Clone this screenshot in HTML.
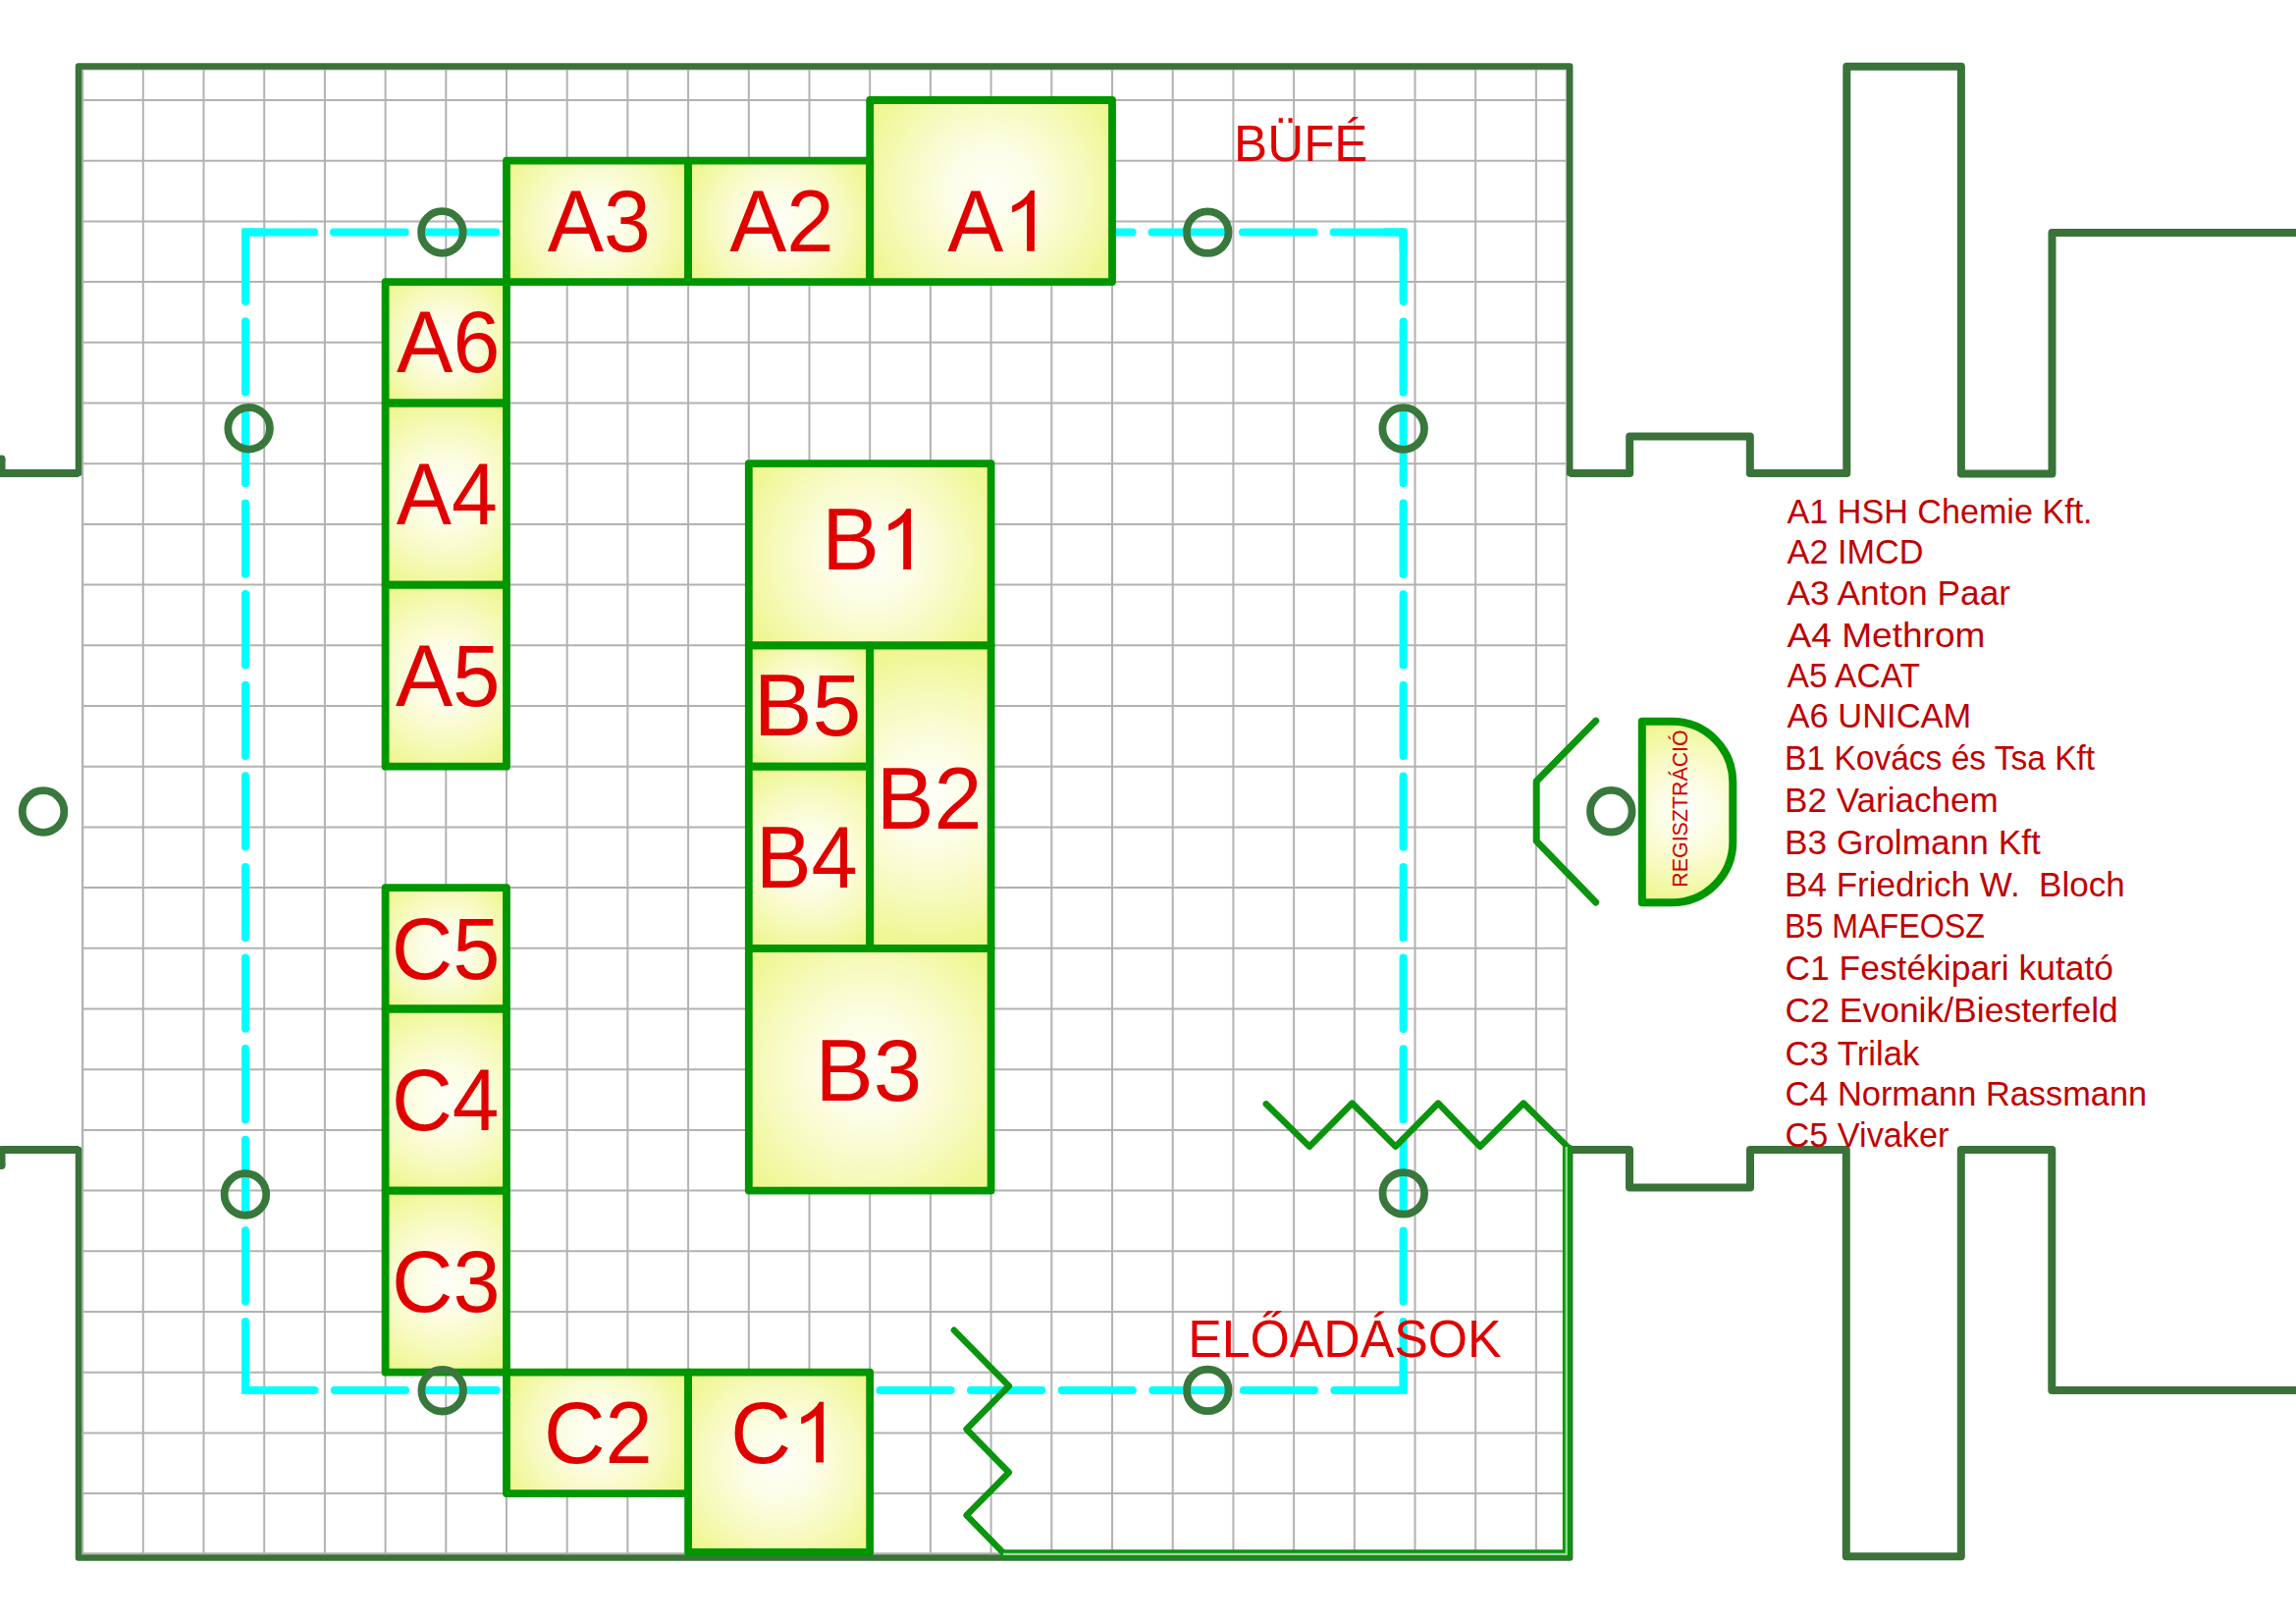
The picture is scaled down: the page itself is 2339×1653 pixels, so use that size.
<!DOCTYPE html><html><head><meta charset="utf-8"><title>Floor plan</title>
<style>html,body{margin:0;padding:0;background:#fff;}svg{display:block;}text{font-family:"Liberation Sans",sans-serif;}</style></head><body>
<svg width="2339" height="1653" viewBox="0 0 2339 1653">
<defs>
<clipPath id="gclip"><rect x="83" y="70" width="1513" height="1513"/></clipPath>
</defs>
<rect width="2339" height="1653" fill="#fff"/>
<path d="M84.1 70V1583M145.8 70V1583M207.5 70V1583M269.2 70V1583M330.9 70V1583M392.6 70V1583M454.3 70V1583M516.0 70V1583M577.7 70V1583M639.4 70V1583M701.1 70V1583M762.8 70V1583M824.5 70V1583M886.2 70V1583M947.9 70V1583M1009.6 70V1583M1071.3 70V1583M1133.0 70V1583M1194.7 70V1583M1256.4 70V1583M1318.1 70V1583M1379.8 70V1583M1441.5 70V1583M1503.2 70V1583M1564.9 70V1583M83 102.0H1596M83 163.7H1596M83 225.4H1596M83 287.1H1596M83 348.8H1596M83 410.5H1596M83 472.2H1596M83 533.9H1596M83 595.6H1596M83 657.3H1596M83 719.0H1596M83 780.7H1596M83 842.4H1596M83 904.1H1596M83 965.8H1596M83 1027.5H1596M83 1089.2H1596M83 1150.9H1596M83 1212.6H1596M83 1274.3H1596M83 1336.0H1596M83 1397.7H1596M83 1459.4H1596M83 1521.1H1596M83 1582.8H1596" stroke="#b2b2b2" stroke-width="2" fill="none" clip-path="url(#gclip)"/>
<rect x="84.2" y="70.5" width="1511.6" height="1511.8" stroke="#b2b2b2" stroke-width="2" fill="none"/>
<path d="M80 482L80 67.5L1599.2 67.5L1599.2 482M80 1171L80 1586.5L1599.2 1586.5L1599.2 1171" stroke="#397339" stroke-width="6.5" fill="none" stroke-linejoin="round" stroke-linecap="round"/>
<path d="M1.5 467.5L1.5 482L80 482M1.5 1187L1.5 1171L80 1171M1599.2 482L1660.2 482L1660.2 444.4L1782.8 444.4L1782.8 482L1881.3 482L1881.3 67.8L1997.9 67.8L1997.9 482.4L2090.5 482.4L2090.5 237L2345 237M1599.2 1171L1660 1171L1660 1209.4L1783 1209.4L1783 1171L1880.8 1171L1880.8 1585.2L1997.8 1585.2L1997.8 1171L2090.3 1171L2090.3 1416L2345 1416" stroke="#397339" stroke-width="8" fill="none" stroke-linejoin="round" stroke-linecap="butt"/>
<circle cx="1.5" cy="467.5" r="4" fill="#397339"/><circle cx="1.5" cy="1187" r="4" fill="#397339"/>
<path d="M250.0 236.6H1429.6" stroke="#00ffff" stroke-width="8" fill="none" stroke-linecap="round" stroke-dasharray="72.8 19.8" stroke-dashoffset="2.6"/>
<path d="M250.0 236.6V1415.9" stroke="#00ffff" stroke-width="8" fill="none" stroke-linecap="round" stroke-dasharray="72.3 20.3" stroke-dashoffset="1.9"/>
<path d="M1429.6 236.6V1415.9" stroke="#00ffff" stroke-width="8" fill="none" stroke-linecap="round" stroke-dasharray="72.3 20.3" stroke-dashoffset="1.8"/>
<path d="M250.0 1415.9H1429.6" stroke="#00ffff" stroke-width="8" fill="none" stroke-linecap="round" stroke-dasharray="72.3 20.3" stroke-dashoffset="1.8"/>
<path d="M250.0 256.6V236.6H270.0M1409.6 236.6H1429.6V256.6M1429.6 1395.9V1415.9H1409.6M270.0 1415.9H250.0V1395.9" stroke="#00ffff" stroke-width="8" fill="none" stroke-linejoin="miter"/>
<radialGradient id="g1" gradientUnits="userSpaceOnUse" cx="608.5" cy="225.4" r="111.2"><stop offset="0" stop-color="#fefef8"/><stop offset="0.3" stop-color="#fcfde4"/><stop offset="0.6" stop-color="#f6fabf"/><stop offset="0.85" stop-color="#f0f79a"/><stop offset="1" stop-color="#edf688"/></radialGradient><rect x="516.0" y="163.7" width="185.1" height="123.4" fill="url(#g1)"/>
<radialGradient id="g2" gradientUnits="userSpaceOnUse" cx="793.7" cy="225.4" r="111.2"><stop offset="0" stop-color="#fefef8"/><stop offset="0.3" stop-color="#fcfde4"/><stop offset="0.6" stop-color="#f6fabf"/><stop offset="0.85" stop-color="#f0f79a"/><stop offset="1" stop-color="#edf688"/></radialGradient><rect x="701.1" y="163.7" width="185.1" height="123.4" fill="url(#g2)"/>
<radialGradient id="g3" gradientUnits="userSpaceOnUse" cx="1009.6" cy="194.6" r="154.2"><stop offset="0" stop-color="#fefef8"/><stop offset="0.3" stop-color="#fcfde4"/><stop offset="0.6" stop-color="#f6fabf"/><stop offset="0.85" stop-color="#f0f79a"/><stop offset="1" stop-color="#edf688"/></radialGradient><rect x="886.2" y="102.0" width="246.8" height="185.1" fill="url(#g3)"/>
<radialGradient id="g4" gradientUnits="userSpaceOnUse" cx="454.3" cy="348.8" r="87.3"><stop offset="0" stop-color="#fefef8"/><stop offset="0.3" stop-color="#fcfde4"/><stop offset="0.6" stop-color="#f6fabf"/><stop offset="0.85" stop-color="#f0f79a"/><stop offset="1" stop-color="#edf688"/></radialGradient><rect x="392.6" y="287.1" width="123.4" height="123.4" fill="url(#g4)"/>
<radialGradient id="g5" gradientUnits="userSpaceOnUse" cx="454.3" cy="503.1" r="111.2"><stop offset="0" stop-color="#fefef8"/><stop offset="0.3" stop-color="#fcfde4"/><stop offset="0.6" stop-color="#f6fabf"/><stop offset="0.85" stop-color="#f0f79a"/><stop offset="1" stop-color="#edf688"/></radialGradient><rect x="392.6" y="410.5" width="123.4" height="185.1" fill="url(#g5)"/>
<radialGradient id="g6" gradientUnits="userSpaceOnUse" cx="454.3" cy="688.2" r="111.2"><stop offset="0" stop-color="#fefef8"/><stop offset="0.3" stop-color="#fcfde4"/><stop offset="0.6" stop-color="#f6fabf"/><stop offset="0.85" stop-color="#f0f79a"/><stop offset="1" stop-color="#edf688"/></radialGradient><rect x="392.6" y="595.6" width="123.4" height="185.1" fill="url(#g6)"/>
<radialGradient id="g7" gradientUnits="userSpaceOnUse" cx="886.2" cy="564.8" r="154.2"><stop offset="0" stop-color="#fefef8"/><stop offset="0.3" stop-color="#fcfde4"/><stop offset="0.6" stop-color="#f6fabf"/><stop offset="0.85" stop-color="#f0f79a"/><stop offset="1" stop-color="#edf688"/></radialGradient><rect x="762.8" y="472.2" width="246.8" height="185.1" fill="url(#g7)"/>
<radialGradient id="g8" gradientUnits="userSpaceOnUse" cx="824.5" cy="719.0" r="87.3"><stop offset="0" stop-color="#fefef8"/><stop offset="0.3" stop-color="#fcfde4"/><stop offset="0.6" stop-color="#f6fabf"/><stop offset="0.85" stop-color="#f0f79a"/><stop offset="1" stop-color="#edf688"/></radialGradient><rect x="762.8" y="657.3" width="123.4" height="123.4" fill="url(#g8)"/>
<radialGradient id="g9" gradientUnits="userSpaceOnUse" cx="824.5" cy="873.2" r="111.2"><stop offset="0" stop-color="#fefef8"/><stop offset="0.3" stop-color="#fcfde4"/><stop offset="0.6" stop-color="#f6fabf"/><stop offset="0.85" stop-color="#f0f79a"/><stop offset="1" stop-color="#edf688"/></radialGradient><rect x="762.8" y="780.7" width="123.4" height="185.1" fill="url(#g9)"/>
<radialGradient id="g10" gradientUnits="userSpaceOnUse" cx="947.9" cy="811.5" r="166.1"><stop offset="0" stop-color="#fefef8"/><stop offset="0.3" stop-color="#fcfde4"/><stop offset="0.6" stop-color="#f6fabf"/><stop offset="0.85" stop-color="#f0f79a"/><stop offset="1" stop-color="#edf688"/></radialGradient><rect x="886.2" y="657.3" width="123.4" height="308.5" fill="url(#g10)"/>
<radialGradient id="g11" gradientUnits="userSpaceOnUse" cx="886.2" cy="1089.2" r="174.5"><stop offset="0" stop-color="#fefef8"/><stop offset="0.3" stop-color="#fcfde4"/><stop offset="0.6" stop-color="#f6fabf"/><stop offset="0.85" stop-color="#f0f79a"/><stop offset="1" stop-color="#edf688"/></radialGradient><rect x="762.8" y="965.8" width="246.8" height="246.8" fill="url(#g11)"/>
<radialGradient id="g12" gradientUnits="userSpaceOnUse" cx="454.3" cy="965.8" r="87.3"><stop offset="0" stop-color="#fefef8"/><stop offset="0.3" stop-color="#fcfde4"/><stop offset="0.6" stop-color="#f6fabf"/><stop offset="0.85" stop-color="#f0f79a"/><stop offset="1" stop-color="#edf688"/></radialGradient><rect x="392.6" y="904.1" width="123.4" height="123.4" fill="url(#g12)"/>
<radialGradient id="g13" gradientUnits="userSpaceOnUse" cx="454.3" cy="1120.0" r="111.2"><stop offset="0" stop-color="#fefef8"/><stop offset="0.3" stop-color="#fcfde4"/><stop offset="0.6" stop-color="#f6fabf"/><stop offset="0.85" stop-color="#f0f79a"/><stop offset="1" stop-color="#edf688"/></radialGradient><rect x="392.6" y="1027.5" width="123.4" height="185.1" fill="url(#g13)"/>
<radialGradient id="g14" gradientUnits="userSpaceOnUse" cx="454.3" cy="1305.2" r="111.2"><stop offset="0" stop-color="#fefef8"/><stop offset="0.3" stop-color="#fcfde4"/><stop offset="0.6" stop-color="#f6fabf"/><stop offset="0.85" stop-color="#f0f79a"/><stop offset="1" stop-color="#edf688"/></radialGradient><rect x="392.6" y="1212.6" width="123.4" height="185.1" fill="url(#g14)"/>
<radialGradient id="g15" gradientUnits="userSpaceOnUse" cx="608.5" cy="1459.4" r="111.2"><stop offset="0" stop-color="#fefef8"/><stop offset="0.3" stop-color="#fcfde4"/><stop offset="0.6" stop-color="#f6fabf"/><stop offset="0.85" stop-color="#f0f79a"/><stop offset="1" stop-color="#edf688"/></radialGradient><rect x="516.0" y="1397.7" width="185.1" height="123.4" fill="url(#g15)"/>
<radialGradient id="g16" gradientUnits="userSpaceOnUse" cx="793.7" cy="1489.3" r="130.3"><stop offset="0" stop-color="#fefef8"/><stop offset="0.3" stop-color="#fcfde4"/><stop offset="0.6" stop-color="#f6fabf"/><stop offset="0.85" stop-color="#f0f79a"/><stop offset="1" stop-color="#edf688"/></radialGradient><rect x="701.1" y="1397.7" width="185.1" height="183.3" fill="url(#g16)"/>
<rect x="516.0" y="163.7" width="185.1" height="123.4" fill="none" stroke="#009600" stroke-width="7.8" stroke-linejoin="round"/>
<rect x="701.1" y="163.7" width="185.1" height="123.4" fill="none" stroke="#009600" stroke-width="7.8" stroke-linejoin="round"/>
<rect x="886.2" y="102.0" width="246.8" height="185.1" fill="none" stroke="#009600" stroke-width="7.8" stroke-linejoin="round"/>
<rect x="392.6" y="287.1" width="123.4" height="123.4" fill="none" stroke="#009600" stroke-width="7.8" stroke-linejoin="round"/>
<rect x="392.6" y="410.5" width="123.4" height="185.1" fill="none" stroke="#009600" stroke-width="7.8" stroke-linejoin="round"/>
<rect x="392.6" y="595.6" width="123.4" height="185.1" fill="none" stroke="#009600" stroke-width="7.8" stroke-linejoin="round"/>
<rect x="762.8" y="472.2" width="246.8" height="185.1" fill="none" stroke="#009600" stroke-width="7.8" stroke-linejoin="round"/>
<rect x="762.8" y="657.3" width="123.4" height="123.4" fill="none" stroke="#009600" stroke-width="7.8" stroke-linejoin="round"/>
<rect x="762.8" y="780.7" width="123.4" height="185.1" fill="none" stroke="#009600" stroke-width="7.8" stroke-linejoin="round"/>
<rect x="886.2" y="657.3" width="123.4" height="308.5" fill="none" stroke="#009600" stroke-width="7.8" stroke-linejoin="round"/>
<rect x="762.8" y="965.8" width="246.8" height="246.8" fill="none" stroke="#009600" stroke-width="7.8" stroke-linejoin="round"/>
<rect x="392.6" y="904.1" width="123.4" height="123.4" fill="none" stroke="#009600" stroke-width="7.8" stroke-linejoin="round"/>
<rect x="392.6" y="1027.5" width="123.4" height="185.1" fill="none" stroke="#009600" stroke-width="7.8" stroke-linejoin="round"/>
<rect x="392.6" y="1212.6" width="123.4" height="185.1" fill="none" stroke="#009600" stroke-width="7.8" stroke-linejoin="round"/>
<rect x="516.0" y="1397.7" width="185.1" height="123.4" fill="none" stroke="#009600" stroke-width="7.8" stroke-linejoin="round"/>
<rect x="701.1" y="1397.7" width="185.1" height="183.3" fill="none" stroke="#009600" stroke-width="7.8" stroke-linejoin="round"/>
<circle cx="450.4" cy="236.5" r="21.3" stroke="#38783c" stroke-width="7.8" fill="none"/>
<circle cx="1230.2" cy="236.6" r="21.3" stroke="#38783c" stroke-width="7.8" fill="none"/>
<circle cx="253.6" cy="436.3" r="21.3" stroke="#38783c" stroke-width="7.8" fill="none"/>
<circle cx="1429.7" cy="436.5" r="21.3" stroke="#38783c" stroke-width="7.8" fill="none"/>
<circle cx="44.05" cy="826.5" r="21.3" stroke="#38783c" stroke-width="7.8" fill="none"/>
<circle cx="249.9" cy="1216.5" r="21.3" stroke="#38783c" stroke-width="7.8" fill="none"/>
<circle cx="1429.8" cy="1215.4" r="21.3" stroke="#38783c" stroke-width="7.8" fill="none"/>
<circle cx="450.7" cy="1416.2" r="21.3" stroke="#38783c" stroke-width="7.8" fill="none"/>
<circle cx="1230.3" cy="1415.9" r="21.3" stroke="#38783c" stroke-width="7.8" fill="none"/>
<circle cx="1641.3" cy="826.2" r="21.3" stroke="#38783c" stroke-width="7.8" fill="none"/>
<text x="557.70" y="255.8" font-size="88.5" fill="#e00000" textLength="105.13" lengthAdjust="spacingAndGlyphs">A3</text>
<text x="743.20" y="255.8" font-size="88.5" fill="#e00000" textLength="106.48" lengthAdjust="spacingAndGlyphs">A2</text>
<text x="404.10" y="379.4" font-size="88.5" fill="#e00000" textLength="105.44" lengthAdjust="spacingAndGlyphs">A6</text>
<text x="403.80" y="534.0" font-size="88.5" fill="#e00000" textLength="103.04" lengthAdjust="spacingAndGlyphs">A4</text>
<text x="402.90" y="718.6" font-size="88.5" fill="#e00000" textLength="106.79" lengthAdjust="spacingAndGlyphs">A5</text>
<text x="767.81" y="749.4" font-size="88.5" fill="#e00000" textLength="109.59" lengthAdjust="spacingAndGlyphs">B5</text>
<text x="769.90" y="904.2" font-size="88.5" fill="#e00000" textLength="103.66" lengthAdjust="spacingAndGlyphs">B4</text>
<text x="892.74" y="844.3" font-size="88.5" fill="#e00000" textLength="107.69" lengthAdjust="spacingAndGlyphs">B2</text>
<text x="830.47" y="1120.8" font-size="88.5" fill="#e00000" textLength="108.69" lengthAdjust="spacingAndGlyphs">B3</text>
<text x="398.78" y="996.9" font-size="88.5" fill="#e00000" textLength="110.76" lengthAdjust="spacingAndGlyphs">C5</text>
<text x="399.03" y="1150.7" font-size="88.5" fill="#e00000" textLength="109.50" lengthAdjust="spacingAndGlyphs">C4</text>
<text x="398.99" y="1335.5" font-size="88.5" fill="#e00000" textLength="110.55" lengthAdjust="spacingAndGlyphs">C3</text>
<text x="553.88" y="1489.9" font-size="88.5" fill="#e00000" textLength="110.85" lengthAdjust="spacingAndGlyphs">C2</text>
<text x="965.30" y="255.8" font-size="88.5" fill="#e00000" textLength="57.03" lengthAdjust="spacingAndGlyphs">A</text>
<path d="M1053.9 194.0L1053.9 255.8L1046.1 255.8L1046.1 207.6Q1039.9 213.5 1031.1 216.5L1031.1 209.8Q1044.4 203.5 1049.7 194.0Z" fill="#e00000"/>
<text x="837.14" y="579.9" font-size="88.5" fill="#e00000" textLength="58.65" lengthAdjust="spacingAndGlyphs">B</text>
<path d="M928.0 518.1L928.0 579.9L920.2 579.9L920.2 531.7Q914.0 537.6 905.2 540.6L905.2 533.9Q918.5 527.6 923.8 518.1Z" fill="#e00000"/>
<text x="744.23" y="1489.6" font-size="88.5" fill="#e00000" textLength="61.86" lengthAdjust="spacingAndGlyphs">C</text>
<path d="M839.0 1427.8L839.0 1489.6L831.2 1489.6L831.2 1441.4Q825.0 1447.3 816.2 1450.3L816.2 1443.6Q829.5 1437.3 834.8 1427.8Z" fill="#e00000"/>
<path d="M1289.8 1124.4L1334 1167.8L1377.5 1123.6L1421.7 1167.8L1465.1 1123.6L1507.8 1167.8L1552 1123.6L1596 1167" stroke="#0b940d" stroke-width="6.5" fill="none" stroke-linejoin="round" stroke-linecap="round"/>
<path d="M971.9 1354.8L1027.8 1411.6L984.6 1455.6L1027.8 1499.6L984.6 1543.3L1022.5 1582" stroke="#0b940d" stroke-width="6.5" fill="none" stroke-linejoin="round" stroke-linecap="round"/>
<path d="M1020 1582.7H1596.35V1166" stroke="#0b940d" stroke-width="9" fill="none" stroke-linejoin="miter"/>
<path d="M1022 1582.9H1595.75V1168" stroke="#9fd69f" stroke-width="2.2" fill="none" stroke-linejoin="miter"/>
<path d="M1625.7 734.1L1565.2 795.7L1565.2 856.6L1625.7 919" stroke="#0b940d" stroke-width="7" fill="none" stroke-linejoin="round" stroke-linecap="round"/>
<clipPath id="dclip"><path d="M1672.8 734.8H1703.3A62 62 0 0 1 1765.3 796.8V857.3A62 62 0 0 1 1703.3 919.3H1672.8Z"/></clipPath>
<g clip-path="url(#dclip)"><radialGradient id="g17" gradientUnits="userSpaceOnUse" cx="1719.0" cy="827.0" r="103.2"><stop offset="0" stop-color="#fefef8"/><stop offset="0.3" stop-color="#fcfde4"/><stop offset="0.6" stop-color="#f6fabf"/><stop offset="0.85" stop-color="#f0f79a"/><stop offset="1" stop-color="#edf688"/></radialGradient><rect x="1672.8" y="734.8" width="92.5" height="184.5" fill="url(#g17)"/></g>
<path d="M1672.8 734.8H1703.3A62 62 0 0 1 1765.3 796.8V857.3A62 62 0 0 1 1703.3 919.3H1672.8Z" fill="none" stroke="#009600" stroke-width="8" stroke-linejoin="round"/>
<text transform="translate(1719.2 903.7) rotate(-90)" font-size="22.5" fill="#d00000" textLength="160.4" lengthAdjust="spacingAndGlyphs">REGISZTRÁCIÓ</text>
<text x="1257.1" y="163.7" font-size="52.5" fill="#e00000" textLength="136.4" lengthAdjust="spacingAndGlyphs">BÜFÉ</text>
<text x="1210.2" y="1381.8" font-size="53" fill="#e00000" textLength="319.3" lengthAdjust="spacingAndGlyphs">ELŐADÁSOK</text>
<text x="1820.6" y="532.9" font-size="35.5" fill="#c00000" textLength="311.0" lengthAdjust="spacingAndGlyphs" xml:space="preserve">A1 HSH Chemie Kft.</text>
<text x="1820.6" y="574.0" font-size="35.5" fill="#c00000" textLength="138.8" lengthAdjust="spacingAndGlyphs" xml:space="preserve">A2 IMCD</text>
<text x="1820.6" y="616.0" font-size="35.5" fill="#c00000" textLength="227.4" lengthAdjust="spacingAndGlyphs" xml:space="preserve">A3 Anton Paar</text>
<text x="1820.6" y="658.8" font-size="35.5" fill="#c00000" textLength="201.8" lengthAdjust="spacingAndGlyphs" xml:space="preserve">A4 Methrom</text>
<text x="1820.6" y="699.9" font-size="35.5" fill="#c00000" textLength="135.4" lengthAdjust="spacingAndGlyphs" xml:space="preserve">A5 ACAT</text>
<text x="1820.6" y="741.0" font-size="35.5" fill="#c00000" textLength="187.6" lengthAdjust="spacingAndGlyphs" xml:space="preserve">A6 UNICAM</text>
<text x="1818.1" y="784.4" font-size="35.5" fill="#c00000" textLength="316.1" lengthAdjust="spacingAndGlyphs" xml:space="preserve">B1 Kovács és Tsa Kft</text>
<text x="1818.1" y="827.1" font-size="35.5" fill="#c00000" textLength="217.7" lengthAdjust="spacingAndGlyphs" xml:space="preserve">B2 Variachem</text>
<text x="1818.1" y="869.8" font-size="35.5" fill="#c00000" textLength="260.7" lengthAdjust="spacingAndGlyphs" xml:space="preserve">B3 Grolmann Kft</text>
<text x="1818.1" y="912.5" font-size="35.5" fill="#c00000" textLength="346.7" lengthAdjust="spacingAndGlyphs" xml:space="preserve">B4 Friedrich W.  Bloch</text>
<text x="1818.1" y="955.2" font-size="35.5" fill="#c00000" textLength="203.7" lengthAdjust="spacingAndGlyphs" xml:space="preserve">B5 MAFEOSZ</text>
<text x="1818.5" y="997.5" font-size="35.5" fill="#c00000" textLength="334.5" lengthAdjust="spacingAndGlyphs" xml:space="preserve">C1 Festékipari kutató</text>
<text x="1818.5" y="1041.0" font-size="35.5" fill="#c00000" textLength="339.3" lengthAdjust="spacingAndGlyphs" xml:space="preserve">C2 Evonik/Biesterfeld</text>
<text x="1818.5" y="1084.6" font-size="35.5" fill="#c00000" textLength="136.9" lengthAdjust="spacingAndGlyphs" xml:space="preserve">C3 Trilak</text>
<text x="1818.5" y="1126.4" font-size="35.5" fill="#c00000" textLength="368.7" lengthAdjust="spacingAndGlyphs" xml:space="preserve">C4 Normann Rassmann</text>
<text x="1818.5" y="1168.2" font-size="35.5" fill="#c00000" textLength="166.9" lengthAdjust="spacingAndGlyphs" xml:space="preserve">C5 Vivaker</text>
</svg></body></html>
